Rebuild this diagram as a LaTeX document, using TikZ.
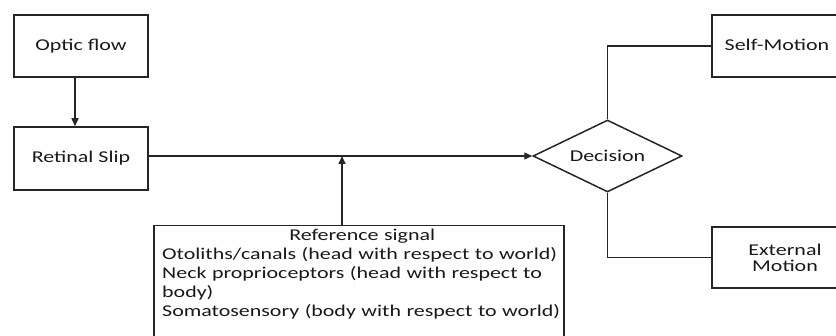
\documentclass[tikz,border=0pt]{standalone}
\usepackage{fontspec}
\setmainfont{Carlito}[FakeStretch=1.33]
\usetikzlibrary{shapes.geometric,arrows.meta}
\begin{document}
\begin{tikzpicture}[x=1pt,y=-1pt,
  every node/.style={font=\fontsize{16.5}{19}\selectfont, text=black!90},
  box/.style={draw=black!85, line width=1.5pt, rectangle, inner sep=0pt},
  conn/.style={draw=black!85, line width=1.4pt},
  arr/.style={conn, -{Triangle[length=8pt,width=7pt]}}]
\useasboundingbox (0,0) rectangle (836,336);
\node[box, minimum width=134pt, minimum height=62pt] (optic) at (81,46) {\raisebox{3pt}{Optic flow}};
\node[box, minimum width=134pt, minimum height=63pt] (retinal) at (81,158.5) {\raisebox{3pt}{Retinal Slip}};
\node[draw=black!85, line width=1.5pt, diamond, inner sep=0pt, aspect=2, minimum width=149pt, minimum height=72pt] (dec) at (607.5,156) {Decision};
\node[box, minimum width=130pt, minimum height=62pt] (self) at (777,46) {\raisebox{2pt}{Self-Motion}};
\node[box, minimum width=146pt, minimum height=61pt, align=center] (ext) at (785,257.5) {External\\[-3pt]Motion};
\node[box, anchor=north west, minimum width=410pt, minimum height=120pt] (ref) at (153,225) {};
\node[anchor=north west, inner sep=0pt, text width=400pt, align=left] (reftext) at (162,229)
 {{\centering Reference signal\par}
 Otoliths/canals (head with respect to world)\\
 Neck proprioceptors (head with respect to\\
 body)\\
 Somatosensory (body with respect to world)};
\draw[arr] ([xshift=-6pt]optic.south) -- ([xshift=-6pt]retinal.north);
\draw[arr] (retinal.east |- dec.west) -- (dec.west);
\coordinate (join) at (342,156);
\draw[arr] (ref.north -| join) -- (join);
\draw[conn] (dec.north) |- (self.west);
\draw[conn] (dec.south) |- (ext.west);
\end{tikzpicture}
\end{document}
